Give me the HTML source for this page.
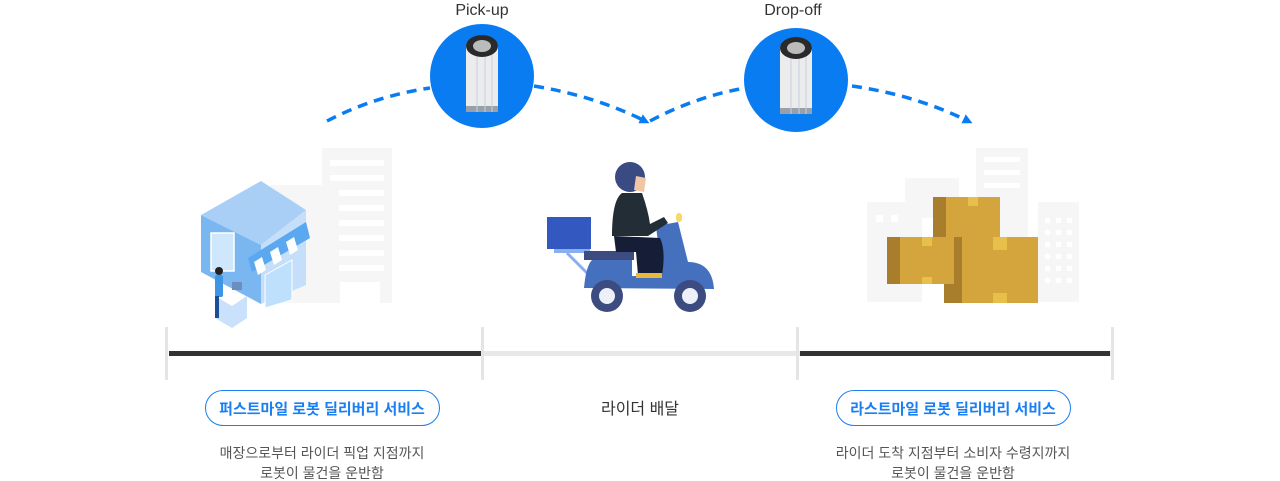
<!DOCTYPE html>
<html><head><meta charset="utf-8"><style>
html,body{margin:0;padding:0;background:#fff;width:1280px;height:481px;overflow:hidden}
svg text{font-family:"Liberation Sans","Noto Sans CJK KR",sans-serif}
</style></head><body>
<svg width="1280" height="481" viewBox="0 0 1280 481" xmlns="http://www.w3.org/2000/svg">
<defs>
<marker id="ar" markerWidth="10" markerHeight="10" refX="5" refY="5" orient="auto" markerUnits="userSpaceOnUse">
<path d="M0,0 L10,5 L0,10 Z" fill="#0a7cf2"/></marker>
<g id="robot">
<rect x="-16" y="-34" width="32" height="70" rx="3" fill="#ececec"/>
<rect x="-16" y="30" width="32" height="6" fill="#9aa0a8"/>
<line x1="-5" y1="-25" x2="-5" y2="36" stroke="#c3d0e6"/>
<line x1="3" y1="-25" x2="3" y2="36" stroke="#c3d0e6"/>
<line x1="10" y1="-25" x2="10" y2="36" stroke="#c3d0e6"/>
<ellipse cx="0" cy="-30" rx="16" ry="11" fill="#2a2a2a"/>
<ellipse cx="0" cy="-30" rx="9" ry="6" fill="#bbb"/>
</g>
</defs>
<g fill="none" stroke="#0a7cf2" stroke-width="3.5" stroke-dasharray="10,7">
<path d="M327,121 Q375,96 430,88"/>
<path d="M534,86 Q595,96 645,121" marker-end="url(#ar)"/>
<path d="M650,121 Q695,97 745,88"/>
<path d="M852,86 Q915,95 968,121" marker-end="url(#ar)"/>
</g>
<text x="482" y="15" font-size="16" fill="#333" text-anchor="middle">Pick-up</text>
<text x="793" y="15" font-size="16" fill="#333" text-anchor="middle">Drop-off</text>
<circle cx="482" cy="76" r="52" fill="#0a7cf2"/>
<use href="#robot" x="482" y="76"/>
<circle cx="796" cy="80" r="52" fill="#0a7cf2"/>
<use href="#robot" x="796" y="78"/>
<g fill="#f6f6f6">
<rect x="322" y="148" width="70" height="155"/>
<rect x="270" y="185" width="60" height="118"/>
</g>
<g fill="#fff">
<rect x="330" y="160" width="54" height="6"/><rect x="330" y="175" width="54" height="6"/>
<rect x="339" y="190" width="45" height="6"/><rect x="339" y="205" width="45" height="6"/>
<rect x="339" y="220" width="45" height="6"/><rect x="339" y="235" width="45" height="6"/>
<rect x="339" y="250" width="45" height="6"/><rect x="339" y="265" width="45" height="6"/>
<rect x="340" y="282" width="40" height="21"/>
</g>
<polygon points="201,215 261,245 306,210 261,181" fill="#a9cff6"/>
<polygon points="201,215 261,245 261,304 201,272" fill="#7ab6f0"/>
<polygon points="261,245 306,210 306,285 261,304" fill="#c5def9"/>
<rect x="211" y="233" width="23" height="38" fill="#cfe7fd" stroke="#fff" stroke-width="1.5"/>
<polygon points="248,258 306,222 310,238 252,272" fill="#5aa8f0"/>
<polygon points="254,262 262,257 266,270 258,275" fill="#fff"/>
<polygon points="270,252 278,247 282,260 274,265" fill="#fff"/>
<polygon points="286,242 294,237 298,250 290,255" fill="#fff"/>
<polygon points="265,275 292,260 292,300 265,308" fill="#bfe0fd" stroke="#fff"/>
<polygon points="215,296 232,306 247,296 247,318 232,328 215,318" fill="#c9e1fb"/>
<rect x="215" y="275" width="8" height="22" rx="2" fill="#3e95e6"/>
<circle cx="219" cy="271" r="4" fill="#222"/>
<rect x="215" y="296" width="4" height="22" fill="#1c4d9c"/>
<rect x="232" y="282" width="10" height="8" fill="#6a8fbf"/>
<rect x="547" y="217" width="44" height="32" fill="#3358c0"/>
<rect x="554" y="249" width="36" height="4" fill="#88b0f0"/>
<line x1="567" y1="253" x2="588" y2="274" stroke="#88b0f0" stroke-width="3"/>
<rect x="584" y="251" width="50" height="9" fill="#3c4c80"/>
<path d="M584,288 Q586,266 592,260 L632,260 L632,276 L662,276 L656,226 L678,222 L688,262 Q712,262 714,289 Z" fill="#4470bd"/>
<circle cx="607" cy="296" r="16" fill="#3c4c80"/><circle cx="607" cy="296" r="8" fill="#eef0f8"/>
<circle cx="690" cy="296" r="16" fill="#3c4c80"/><circle cx="690" cy="296" r="8" fill="#eef0f8"/>
<path d="M612,236 Q612,200 622,193 L642,193 Q648,210 650,224 L664,217 L668,223 L648,236 Z" fill="#222d36"/>
<path d="M614,236 L660,238 Q666,250 662,275 L638,275 L636,252 L616,252 Z" fill="#161d36"/>
<rect x="636" y="273" width="26" height="5" fill="#e8b83a"/>
<circle cx="630" cy="177" r="15" fill="#3a4a82"/>
<path d="M636,176 L646,178 L644,192 L634,190 Z" fill="#f2c6a4"/>
<rect x="676" y="213" width="6" height="9" rx="3" fill="#f6d96a"/>
<g fill="#f6f6f6">
<rect x="867" y="202" width="55" height="100"/>
<rect x="905" y="178" width="54" height="40"/>
<rect x="976" y="148" width="52" height="154"/>
<rect x="1038" y="202" width="41" height="100"/>
</g>
<g fill="#fff">
<rect x="984" y="157" width="36" height="5"/><rect x="984" y="170" width="36" height="5"/>
<rect x="984" y="183" width="36" height="5"/>
<rect x="876" y="215" width="7" height="7"/><rect x="891" y="215" width="7" height="7"/>
<rect x="1045" y="218" width="5" height="5"/><rect x="1056" y="218" width="5" height="5"/><rect x="1067" y="218" width="5" height="5"/>
<rect x="1045" y="230" width="5" height="5"/><rect x="1056" y="230" width="5" height="5"/><rect x="1067" y="230" width="5" height="5"/>
<rect x="1045" y="242" width="5" height="5"/><rect x="1056" y="242" width="5" height="5"/><rect x="1067" y="242" width="5" height="5"/>
<rect x="1045" y="254" width="5" height="5"/><rect x="1056" y="254" width="5" height="5"/><rect x="1067" y="254" width="5" height="5"/>
<rect x="1045" y="266" width="5" height="5"/><rect x="1056" y="266" width="5" height="5"/><rect x="1067" y="266" width="5" height="5"/>
<rect x="1045" y="278" width="5" height="5"/><rect x="1056" y="278" width="5" height="5"/><rect x="1067" y="278" width="5" height="5"/>
</g>
<rect x="933" y="197" width="13" height="40" fill="#a87e2c"/>
<rect x="946" y="197" width="54" height="40" fill="#d4a53c"/>
<rect x="968" y="197" width="10" height="9" fill="#e6c04a"/>
<rect x="944" y="237" width="18" height="66" fill="#a87e2c"/>
<rect x="962" y="237" width="76" height="66" fill="#d4a53c"/>
<rect x="993" y="237" width="14" height="13" fill="#e6c04a"/>
<rect x="993" y="293" width="14" height="10" fill="#e6c04a"/>
<rect x="887" y="237" width="13" height="47" fill="#a87e2c"/>
<rect x="900" y="237" width="54" height="47" fill="#d4a53c"/>
<rect x="922" y="237" width="10" height="9" fill="#e6c04a"/>
<rect x="922" y="277" width="10" height="7" fill="#e6c04a"/>
<rect x="169" y="351" width="944" height="5" fill="#e8e8e8"/>
<rect x="169" y="351" width="312" height="5" fill="#333"/>
<rect x="800" y="351" width="310" height="5" fill="#333"/>
<g fill="#e5e5e5">
<rect x="165" y="327" width="3" height="53"/><rect x="481" y="327" width="3" height="53"/>
<rect x="796" y="327" width="3" height="53"/><rect x="1111" y="327" width="3" height="53"/>
</g>
<rect x="205.5" y="390.5" width="234" height="35" rx="17.5" fill="#fff" stroke="#1a7ff0"/>
<text x="322" y="414" font-size="15" font-weight="600" fill="#1a7ff0" text-anchor="middle">퍼스트마일 로봇 딜리버리 서비스</text>
<rect x="836.5" y="390.5" width="234" height="35" rx="17.5" fill="#fff" stroke="#1a7ff0"/>
<text x="953" y="414" font-size="15" font-weight="600" fill="#1a7ff0" text-anchor="middle">라스트마일 로봇 딜리버리 서비스</text>
<text x="640" y="414" font-size="16" fill="#333" text-anchor="middle">라이더 배달</text>
<g font-size="14" fill="#555" text-anchor="middle">
<text x="322" y="458">매장으로부터 라이더 픽업 지점까지</text>
<text x="322" y="478">로봇이 물건을 운반함</text>
<text x="953" y="458">라이더 도착 지점부터 소비자 수령지까지</text>
<text x="953" y="478">로봇이 물건을 운반함</text>
</g>
</svg>
</body></html>
